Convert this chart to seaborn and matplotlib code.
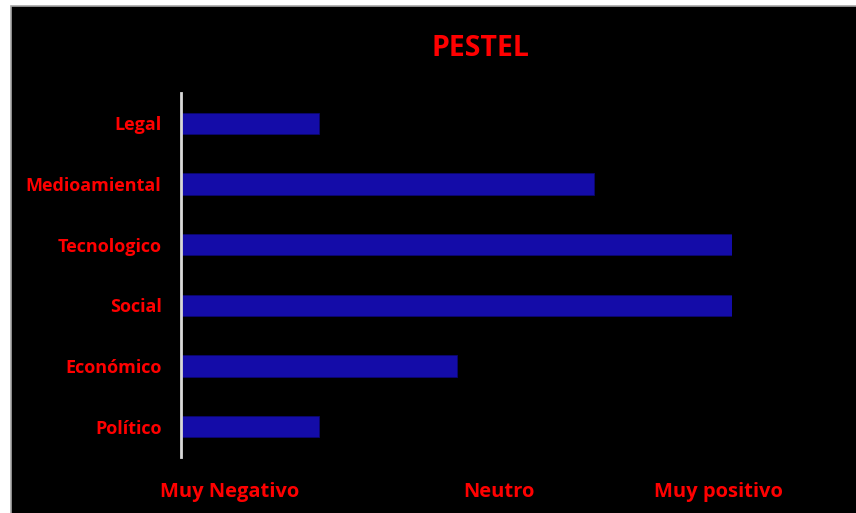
import matplotlib
matplotlib.use("Agg")
import matplotlib.pyplot as plt
import seaborn as sns
import pandas as pd
from matplotlib.patches import Rectangle

# ==================================================
# Data
# ==================================================
factores = ["Legal", "Medioamiental", "Tecnologico", "Social", "Económico", "Político"]
valores = [1, 3, 4, 4, 2, 1]

escala_pos = [0.35, 2.31, 3.90]
escala_labels = ["Muy Negativo", "Neutro", "Muy positivo"]

df = pd.DataFrame({"factor": factores, "valor": valores})

# ==================================================
# Settings
# ==================================================
sns.set_theme(style="white")
plt.rcParams["font.family"] = ["Open Sans", "DejaVu Sans"]

ROJO = "#FF0000"
AZUL = "#140CA8"

fig = plt.figure(figsize=(8.56, 5.13), dpi=100)
fig.patch.set_facecolor("white")

# black chart area with grey frame
fig.patches.append(Rectangle((11 / 856, -0.01), 1.0, (513 - 6) / 513 + 0.01,
                             transform=fig.transFigure, facecolor="black",
                             edgecolor="#a6a6a6", linewidth=1.2, zorder=-5))

ax = fig.add_axes([181 / 856, 56 / 513, 551 / 856, 364 / 513])
ax.set_facecolor("none")
ax.set_zorder(2)

sns.barplot(data=df, x="valor", y="factor", orient="h", color=AZUL,
            width=0.35, saturation=1, edgecolor="#0a0670", linewidth=0.6, ax=ax)

ax.set_xlim(0, 4)
ax.set_ylim(5.5, -0.5)

for s in ["top", "right", "bottom"]:
    ax.spines[s].set_visible(False)
ax.spines["left"].set_color("#d9d9d9")
ax.spines["left"].set_linewidth(2)

ax.set_xticks(escala_pos)
ax.set_xticklabels(escala_labels, fontsize=14.5, fontweight="bold", color=ROJO)
ax.tick_params(axis="x", length=0, pad=18)
ax.tick_params(axis="y", length=0, pad=14, labelsize=13, labelcolor=ROJO)
for lbl in ax.get_yticklabels():
    lbl.set_fontweight("bold")

ax.set_xlabel("")
ax.set_ylabel("")

fig.text(480 / 856, 1 - 48 / 513, "PESTEL", ha="center", va="center",
         fontsize=20.5, fontweight="bold", color=ROJO, zorder=3)

fig.savefig("out.png", dpi=100)
